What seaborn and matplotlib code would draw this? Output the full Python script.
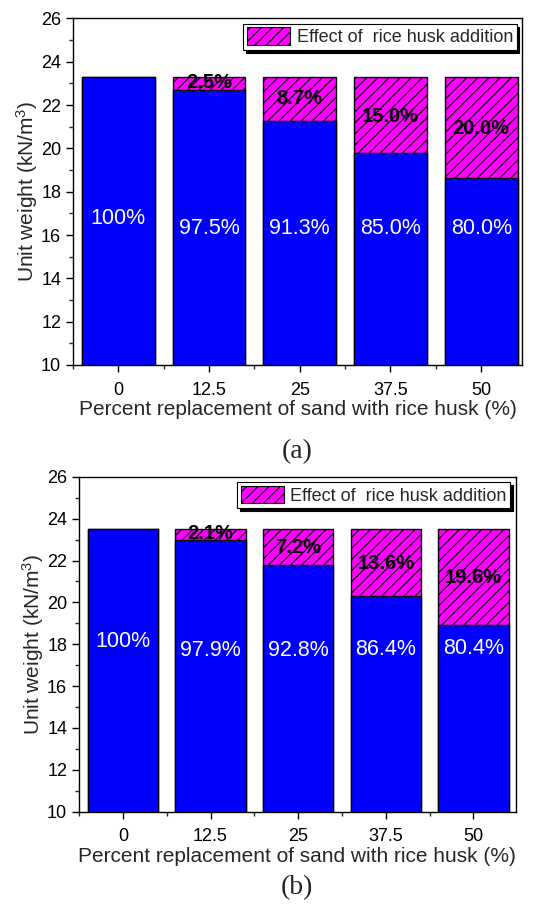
import numpy as np
import pandas as pd
import matplotlib
matplotlib.use("Agg")
import matplotlib.pyplot as plt
from matplotlib.patches import Patch
from matplotlib.ticker import MultipleLocator, FixedLocator
import seaborn as sns

# ---- data ----
categories = ["0", "12.5", "25", "37.5", "50"]

total_a = [23.28, 23.28, 23.28, 23.28, 23.28]
blue_a = [23.28, 22.70, 21.25, 19.79, 18.62]
blue_labels_a = ["100%", "97.5%", "91.3%", "85.0%", "80.0%"]
effect_labels_a = ["", "2.5%", "8.7%", "15.0%", "20.0%"]
blue_label_y_a = [16.74, 16.28, 16.28, 16.28, 16.28]
effect_label_y_a = [None, 23.02, 22.32, 21.45, 20.93]

total_b = [23.50, 23.50, 23.50, 23.50, 23.50]
blue_b = [23.50, 23.00, 21.80, 20.30, 18.90]
blue_labels_b = ["100%", "97.9%", "92.8%", "86.4%", "80.4%"]
effect_labels_b = ["", "2.1%", "7.2%", "13.6%", "19.6%"]
blue_label_y_b = [18.15, 17.70, 17.70, 17.75, 17.80]
effect_label_y_b = [None, 23.29, 22.64, 21.85, 21.19]

legend_label = "Effect of  rice husk addition"
xlabel = "Percent replacement of sand with rice husk (%)"
ylabel = "Unit weight (kN/m$^3$)"

sns.set_theme(style="ticks")
plt.rcParams["font.family"] = ["Liberation Sans", "DejaVu Sans"]
plt.rcParams["hatch.linewidth"] = 0.8
plt.rcParams["mathtext.fontset"] = "custom"
plt.rcParams["mathtext.rm"] = "Liberation Sans"
plt.rcParams["mathtext.it"] = "Liberation Sans:italic"

MAGENTA = "#FF00FF"
BLUE = "#0000FF"

fig = plt.figure(figsize=(5.43, 9.05), dpi=100)
ax_a = fig.add_axes([0.1344, 0.5967, 0.827, 0.383])
ax_b = fig.add_axes([0.1455, 0.1031, 0.804, 0.370])


def draw(ax, total, blue, blue_labels, effect_labels, blue_y, eff_y, caption,
         xlim_right, cap_y):
    df = pd.DataFrame({"cat": categories, "total": total, "blue": blue})
    sns.barplot(data=df, x="cat", y="total", order=categories, color=MAGENTA,
                saturation=1, width=0.8, edgecolor="black", linewidth=1.0,
                hatch="///", ax=ax)
    sns.barplot(data=df, x="cat", y="blue", order=categories, color=BLUE,
                saturation=1, width=0.8, edgecolor="black", linewidth=1.0, ax=ax)
    for p in ax.patches:
        p.set_edgecolor("black")
    for i, (lab, y) in enumerate(zip(blue_labels, blue_y)):
        ax.text(i, y, lab, color="white", ha="center", va="center", fontsize=15.5)
    for i, (lab, y) in enumerate(zip(effect_labels, eff_y)):
        if lab:
            ax.text(i, y, lab, color="black", ha="center", va="center",
                    fontsize=14.5, fontweight="bold")
    ax.set_ylim(10, 26)
    ax.set_xlim(-0.5, xlim_right)
    ax.yaxis.set_major_locator(MultipleLocator(2))
    ax.yaxis.set_minor_locator(MultipleLocator(1))
    ax.xaxis.set_minor_locator(FixedLocator([-0.5, 0.5, 1.5, 2.5, 3.5]))
    ax.tick_params(axis="both", which="major", direction="out", length=5,
                   width=1, labelsize=13, colors="black", top=False, right=False)
    ax.tick_params(axis="both", which="minor", direction="out", length=3,
                   width=1, top=False, right=False)
    ax.tick_params(axis="x", which="major", pad=7)
    for s in ax.spines.values():
        s.set_visible(True)
        s.set_linewidth(1.0)
        s.set_color("black")
    ax.set_xlabel(xlabel, fontsize=15, labelpad=1)
    ax.set_ylabel(ylabel, fontsize=15, labelpad=1)
    handle = Patch(facecolor=MAGENTA, edgecolor="black", hatch="///", linewidth=0.8)
    leg = ax.legend([handle], [legend_label], loc="upper right", fontsize=13,
                    frameon=True, fancybox=False, shadow={"color": "black", "alpha": 1},
                    borderpad=0.2, handlelength=2.4, handleheight=1.1,
                    handletextpad=0.35, borderaxespad=0.3, framealpha=1,
                    edgecolor="black")
    leg.get_frame().set_linewidth(0.8)
    ax.text(0.5, cap_y, caption, transform=ax.transAxes, ha="center", va="center",
            fontsize=20, family="Liberation Serif")


draw(ax_a, total_a, blue_a, blue_labels_a, effect_labels_a, blue_label_y_a,
     effect_label_y_a, "(a)", 4.45, -0.25)
draw(ax_b, total_b, blue_b, blue_labels_b, effect_labels_b, blue_label_y_b,
     effect_label_y_b, "(b)", 4.48, -0.228)

fig.savefig("out.png", dpi=100)
